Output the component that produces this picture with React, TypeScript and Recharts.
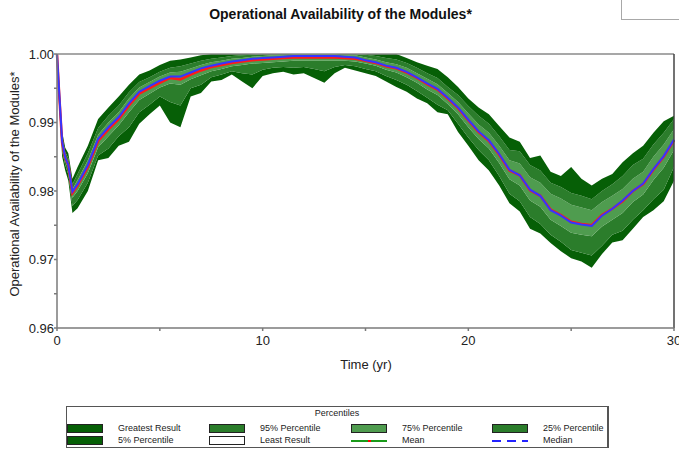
import { ComposedChart, Area, Line, XAxis, YAxis, ReferenceLine } from "recharts"

// time in years
const times = [0, 0.1, 0.25, 0.4, 0.55, 0.75, 1, 1.5, 2, 2.5, 3, 3.5, 4, 4.5, 5, 5.5, 6, 6.5, 7, 7.5, 8, 8.5, 9, 9.5, 10, 10.5, 11, 11.5, 12, 12.5, 13, 13.5, 14, 14.5, 15, 15.5, 16, 16.5, 17, 17.5, 18, 18.5, 19, 19.5, 20, 20.5, 21, 21.5, 22, 22.5, 23, 23.5, 24, 24.5, 25, 25.5, 26, 26.5, 27, 27.5, 28, 28.5, 29, 29.5, 30]

const meanVals = [1.0, 0.9945, 0.987, 0.9848, 0.9838, 0.9797, 0.9808, 0.9835, 0.9873, 0.989, 0.9905, 0.9925, 0.9942, 0.995, 0.9958, 0.9965, 0.9963, 0.997, 0.9976, 0.9981, 0.9984, 0.9987, 0.9989, 0.9991, 0.9992, 0.9993, 0.9994, 0.9995, 0.9995, 0.9995, 0.9995, 0.9995, 0.9994, 0.9993, 0.999, 0.9987, 0.9982, 0.9979, 0.9973, 0.9965, 0.9956, 0.9948, 0.9935, 0.9921, 0.9903, 0.9886, 0.9873, 0.9853, 0.983, 0.9823, 0.9801, 0.9793, 0.9773, 0.9765, 0.9755, 0.9752, 0.975, 0.9765, 0.9774, 0.9785, 0.98, 0.981, 0.9831, 0.985, 0.9874]
const medianVals = [1.0, 0.9948, 0.9872, 0.9849, 0.9838, 0.9799, 0.981, 0.9838, 0.9876, 0.9893, 0.9908, 0.9928, 0.9945, 0.9953, 0.9961, 0.9967, 0.9967, 0.9973, 0.9979, 0.9983, 0.9986, 0.9989, 0.9991, 0.9993, 0.9994, 0.9995, 0.9996, 0.9997, 0.9997, 0.9997, 0.9997, 0.9997, 0.9996, 0.9995, 0.9991, 0.9988, 0.9983, 0.998, 0.9974, 0.9966, 0.9957, 0.9949, 0.9936, 0.9922, 0.9904, 0.9887, 0.9874, 0.9854, 0.9831, 0.9823, 0.9802, 0.9793, 0.9772, 0.9764, 0.9754, 0.9751, 0.9749, 0.9764, 0.9774, 0.9786, 0.98, 0.9811, 0.9832, 0.9851, 0.9875]
const leastVals = [1.0, 0.9925, 0.985, 0.983, 0.9815, 0.9768, 0.9775, 0.98, 0.9845, 0.9848, 0.9866, 0.9872, 0.9898, 0.9912, 0.9925, 0.99, 0.9893, 0.9938, 0.9943, 0.996, 0.9962, 0.997, 0.996, 0.995, 0.9968, 0.9972, 0.9974, 0.997, 0.9972, 0.9965, 0.9958, 0.9972, 0.998, 0.9976, 0.9972, 0.9968, 0.996, 0.9952, 0.9945, 0.9935, 0.9928, 0.9915, 0.9912, 0.9886, 0.9866, 0.9845, 0.983, 0.9808, 0.9782, 0.977, 0.9745, 0.9738, 0.9724, 0.9712, 0.9702, 0.9697, 0.9688, 0.9708, 0.9725, 0.9728, 0.9745, 0.9762, 0.9772, 0.9785, 0.9815]
const p5Vals = [1.0, 0.9935, 0.9858, 0.9838, 0.9824, 0.9778, 0.9787, 0.9812, 0.9852, 0.9862, 0.988, 0.9893, 0.9915, 0.9926, 0.9938, 0.993, 0.9925, 0.995, 0.9955, 0.9966, 0.997, 0.9975, 0.9972, 0.997, 0.9977, 0.998, 0.9981, 0.998, 0.9981, 0.9978, 0.9975, 0.9981, 0.9984, 0.9982, 0.9978, 0.9975, 0.9968, 0.9962, 0.9955, 0.9946, 0.9936, 0.9926, 0.9918, 0.9898, 0.9878, 0.986, 0.9845, 0.9822, 0.9796, 0.9785, 0.9762, 0.9752, 0.9736, 0.9726, 0.9714, 0.971, 0.9706, 0.972, 0.9736, 0.9742, 0.9758, 0.9772, 0.9788, 0.9802, 0.9835]
const p25Vals = [1.0, 0.9942, 0.9866, 0.9844, 0.9832, 0.979, 0.98, 0.9826, 0.9864, 0.988, 0.9896, 0.9915, 0.9933, 0.9942, 0.9951, 0.9957, 0.9955, 0.9963, 0.9969, 0.9975, 0.9978, 0.9982, 0.9984, 0.9986, 0.9987, 0.9988, 0.9989, 0.999, 0.999, 0.999, 0.999, 0.999, 0.999, 0.9989, 0.9986, 0.9983, 0.9977, 0.9973, 0.9966, 0.9958, 0.9948, 0.994, 0.9927, 0.9912, 0.9893, 0.9876, 0.9862, 0.9841, 0.9817, 0.9808, 0.9786, 0.9777, 0.9758, 0.9749, 0.9739, 0.9736, 0.9734, 0.9748, 0.9758, 0.9768, 0.9784, 0.9795, 0.9816, 0.9834, 0.986]
const p75Vals = [1.0, 0.995, 0.9875, 0.9852, 0.9842, 0.9803, 0.9816, 0.9845, 0.9882, 0.99, 0.9915, 0.9935, 0.9951, 0.9959, 0.9967, 0.9973, 0.9974, 0.9979, 0.9984, 0.9988, 0.999, 0.9993, 0.9994, 0.9996, 0.9997, 0.9998, 0.9998, 0.9999, 0.9999, 0.9999, 0.9999, 0.9999, 0.9998, 0.9998, 0.9995, 0.9992, 0.9988, 0.9985, 0.998, 0.9972, 0.9964, 0.9956, 0.9943, 0.993, 0.9913, 0.9897, 0.9885, 0.9866, 0.9845, 0.984, 0.982, 0.9812, 0.9796, 0.9789, 0.978, 0.9776, 0.9772, 0.9784, 0.9793, 0.9803, 0.9818, 0.9828, 0.985, 0.9868, 0.989]
const p95Vals = [1.0, 0.9955, 0.988, 0.9857, 0.9848, 0.981, 0.9825, 0.9855, 0.9892, 0.991, 0.9925, 0.9944, 0.9959, 0.9966, 0.9974, 0.998, 0.9982, 0.9986, 0.999, 0.9993, 0.9995, 0.9997, 0.9998, 0.9999, 1, 1, 1, 1, 1, 1, 1, 1, 1, 1, 0.9999, 0.9997, 0.9994, 0.9992, 0.9987, 0.998, 0.9972, 0.9965, 0.9952, 0.994, 0.9924, 0.991, 0.9898, 0.988, 0.986, 0.9858, 0.9838, 0.983, 0.9812, 0.9806, 0.9797, 0.9793, 0.9788, 0.98, 0.981, 0.9822, 0.9838, 0.9847, 0.9868, 0.9885, 0.9905]
const greatestVals = [1.0, 0.9962, 0.9887, 0.9863, 0.9855, 0.9818, 0.9835, 0.9866, 0.9905, 0.9922, 0.9938, 0.9955, 0.997, 0.9976, 0.9984, 0.999, 0.9992, 0.9995, 0.9998, 1, 1, 1, 1, 1, 1, 1, 1, 1, 1, 1, 1, 1, 1, 1, 1, 1, 1, 1, 0.9994, 0.9988, 0.9983, 0.9978, 0.9966, 0.9952, 0.9935, 0.9922, 0.9912, 0.9895, 0.9878, 0.9872, 0.9848, 0.9852, 0.9828, 0.9822, 0.9835, 0.9818, 0.9808, 0.9818, 0.9825, 0.9842, 0.9855, 0.9866, 0.9885, 0.9902, 0.991]

const xTicks = [0, 5, 10, 15, 20, 25, 30]
const yTicks = [0.96, 0.965, 0.97, 0.975, 0.98, 0.985, 0.99, 0.995, 1.0]

const DARK = "#065f06"
const MID = "#2b7d2b"
const LIGHT = "#4f9c4f"
const FONT = "'Liberation Sans', Arial, sans-serif"

const chartData = times.map((t, i) => ({
  t,
  outerLow: [leastVals[i], p5Vals[i]],
  midLow: [p5Vals[i], p25Vals[i]],
  center: [p25Vals[i], p75Vals[i]],
  midHigh: [p75Vals[i], p95Vals[i]],
  outerHigh: [p95Vals[i], greatestVals[i]],
  mean: meanVals[i],
  median: medianVals[i],
}))

const legendItems = [
  { label: "Greatest Result", kind: "box", color: DARK, x: 67, row: 0 },
  { label: "95% Percentile", kind: "box", color: MID, x: 209, row: 0 },
  { label: "75% Percentile", kind: "box", color: LIGHT, x: 351, row: 0 },
  { label: "25% Percentile", kind: "box", color: MID, x: 492, row: 0 },
  { label: "5% Percentile", kind: "box", color: DARK, x: 67, row: 1 },
  { label: "Least Result", kind: "box", color: "#ffffff", x: 209, row: 1 },
  { label: "Mean", kind: "mean", color: "#1a9a1a", x: 351, row: 1 },
  { label: "Median", kind: "median", color: "#2323ff", x: 492, row: 1 },
]

function LegendBox() {
  return (
    <div
      style={{
        position: "absolute",
        left: 66,
        top: 406,
        width: 543,
        height: 42,
        border: "1px solid #555",
        borderRightWidth: 2,
        boxSizing: "border-box",
        fontFamily: FONT,
        fontSize: 9,
        color: "#222",
      }}
    >
      <div style={{ position: "absolute", left: 0, width: "100%", top: 1, textAlign: "center" }}>Percentiles</div>
      {legendItems.map((it) => {
        const top = it.row === 0 ? 17 : 29
        return (
          <div key={it.label}>
            <svg style={{ position: "absolute", left: it.x - 67, top }} width={37} height={10}>
              {it.kind === "box" && (
                <rect x={0.5} y={0.5} width={35} height={8} fill={it.color} stroke="#222" strokeWidth={1} />
              )}
              {it.kind === "mean" && (
                <>
                  <line x1={0} y1={5} x2={36} y2={5} stroke={it.color} strokeWidth={2} />
                  <line x1={17} y1={5} x2={20} y2={5} stroke="#ff0000" strokeWidth={2} />
                </>
              )}
              {it.kind === "median" && (
                <line x1={0} y1={5} x2={36} y2={5} stroke={it.color} strokeWidth={2} strokeDasharray="9 6" />
              )}
            </svg>
            <div style={{ position: "absolute", left: it.x - 67 + 51, top: top - 1, lineHeight: "11px", whiteSpace: "nowrap" }}>
              {it.label}
            </div>
          </div>
        )
      })}
    </div>
  )
}

export default function App() {
  return (
    <div style={{ position: "absolute", left: 0, top: 0, width: 679, height: 450, background: "#fff", overflow: "hidden", fontFamily: FONT }}>
      <div
        style={{
          position: "absolute",
          left: 0,
          width: 679,
          top: 6,
          textAlign: "center",
          fontWeight: "bold",
          fontSize: 14,
          color: "#111",
          paddingLeft: 1,
        }}
      >
        Operational Availability of the Modules*
      </div>
      <div style={{ position: "absolute", left: 621, top: -1, width: 62, height: 21, border: "1px solid #a8a8a8", boxSizing: "border-box" }} />
      <div
        style={{
          position: "absolute",
          left: 14,
          top: 184,
          transform: "translate(-50%, -50%) rotate(-90deg)",
          whiteSpace: "nowrap",
          fontSize: 13,
          color: "#222",
        }}
      >
        Operational Availability of the Modules*
      </div>
      <div style={{ position: "absolute", left: 366, top: 357, transform: "translateX(-50%)", fontSize: 13, color: "#222", whiteSpace: "nowrap" }}>
        Time (yr)
      </div>
      <div style={{ position: "absolute", left: 0, top: 0 }}>
        <ComposedChart width={679} height={400} data={chartData} margin={{ top: 54, right: 5, bottom: 42, left: 12 }}>
          <XAxis
            dataKey="t"
            type="number"
            domain={[0, 30]}
            ticks={xTicks}
            interval={0}
            tickFormatter={(v) => (v % 10 === 0 ? String(v) : "")}
            stroke="#7a7a7a"
            strokeWidth={1.5}
            tickSize={3}
            tickMargin={5}
            tick={{ fill: "#222", fontSize: 13, fontFamily: FONT }}
            height={30}
          />
          <YAxis
            type="number"
            domain={[0.96, 1.0]}
            ticks={yTicks}
            interval={0}
            allowDataOverflow
            tickFormatter={(v) => (Math.round(v * 1000) % 10 === 0 ? v.toFixed(2) : "")}
            stroke="#7a7a7a"
            strokeWidth={1.5}
            tickSize={3}
            tickMargin={0}
            tick={{ fill: "#222", fontSize: 13, fontFamily: FONT }}
            width={45}
          />
          <Area type="linear" dataKey="outerLow" stroke="none" fill={DARK} fillOpacity={1} isAnimationActive={false} activeDot={false} />
          <Area type="linear" dataKey="midLow" stroke="none" fill={MID} fillOpacity={1} isAnimationActive={false} activeDot={false} />
          <Area type="linear" dataKey="center" stroke="none" fill={LIGHT} fillOpacity={1} isAnimationActive={false} activeDot={false} />
          <Area type="linear" dataKey="midHigh" stroke="none" fill={MID} fillOpacity={1} isAnimationActive={false} activeDot={false} />
          <Area type="linear" dataKey="outerHigh" stroke="none" fill={DARK} fillOpacity={1} isAnimationActive={false} activeDot={false} />
          <Line type="linear" dataKey="mean" stroke="#ff1a1a" strokeWidth={2.5} dot={false} activeDot={false} isAnimationActive={false} />
          <Line type="linear" dataKey="median" stroke="#3535ff" strokeWidth={2} dot={false} activeDot={false} isAnimationActive={false} />
          <ReferenceLine y={1.0} stroke="#8a8a8a" strokeWidth={1.5} />
          <ReferenceLine x={30} stroke="#444" strokeWidth={1.5} />
        </ComposedChart>
      </div>
      <LegendBox />
    </div>
  )
}
